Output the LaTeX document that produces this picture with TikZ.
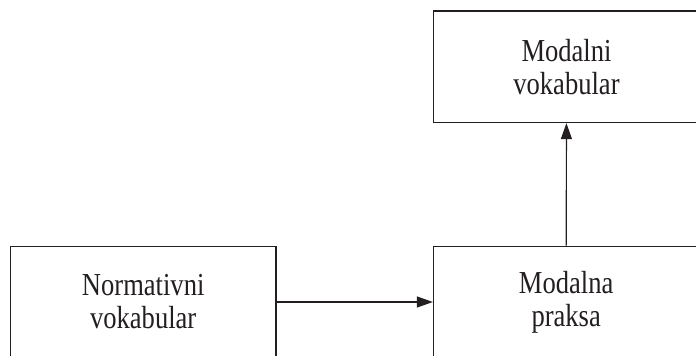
\documentclass[tikz,border=0pt]{standalone}
\usepackage{fontspec}
\setmainfont{Liberation Serif}[FakeStretch=0.83]
\usetikzlibrary{arrows.meta}
\definecolor{ink}{HTML}{231F20}
\tikzset{
  box/.style={draw=ink, line width=1.2pt, minimum width=265.5pt, minimum height=111.5pt,
    inner sep=0pt, align=center, text=ink, font=\fontsize{32}{33}\selectfont},
  link/.style={draw=ink, line width=1.2pt, -{Triangle[length=16pt,width=11pt]}}
}
\begin{document}
\begin{tikzpicture}[x=1pt,y=1pt]
\useasboundingbox (0,0) rectangle (696,356);
\clip (0,0) rectangle (696,356);
\node[box] (mv) at (566.5,289.2) {Modalni\\vokabular};
\node[box] (nv) at (143.2,54) {Normativni\\vokabular};
\node[box] (mp) at (566.2,54) {Modalna\\praksa};
\draw[link] (nv) -- (mp);
\draw[link] (mp) -- (mv);
\end{tikzpicture}
\end{document}
